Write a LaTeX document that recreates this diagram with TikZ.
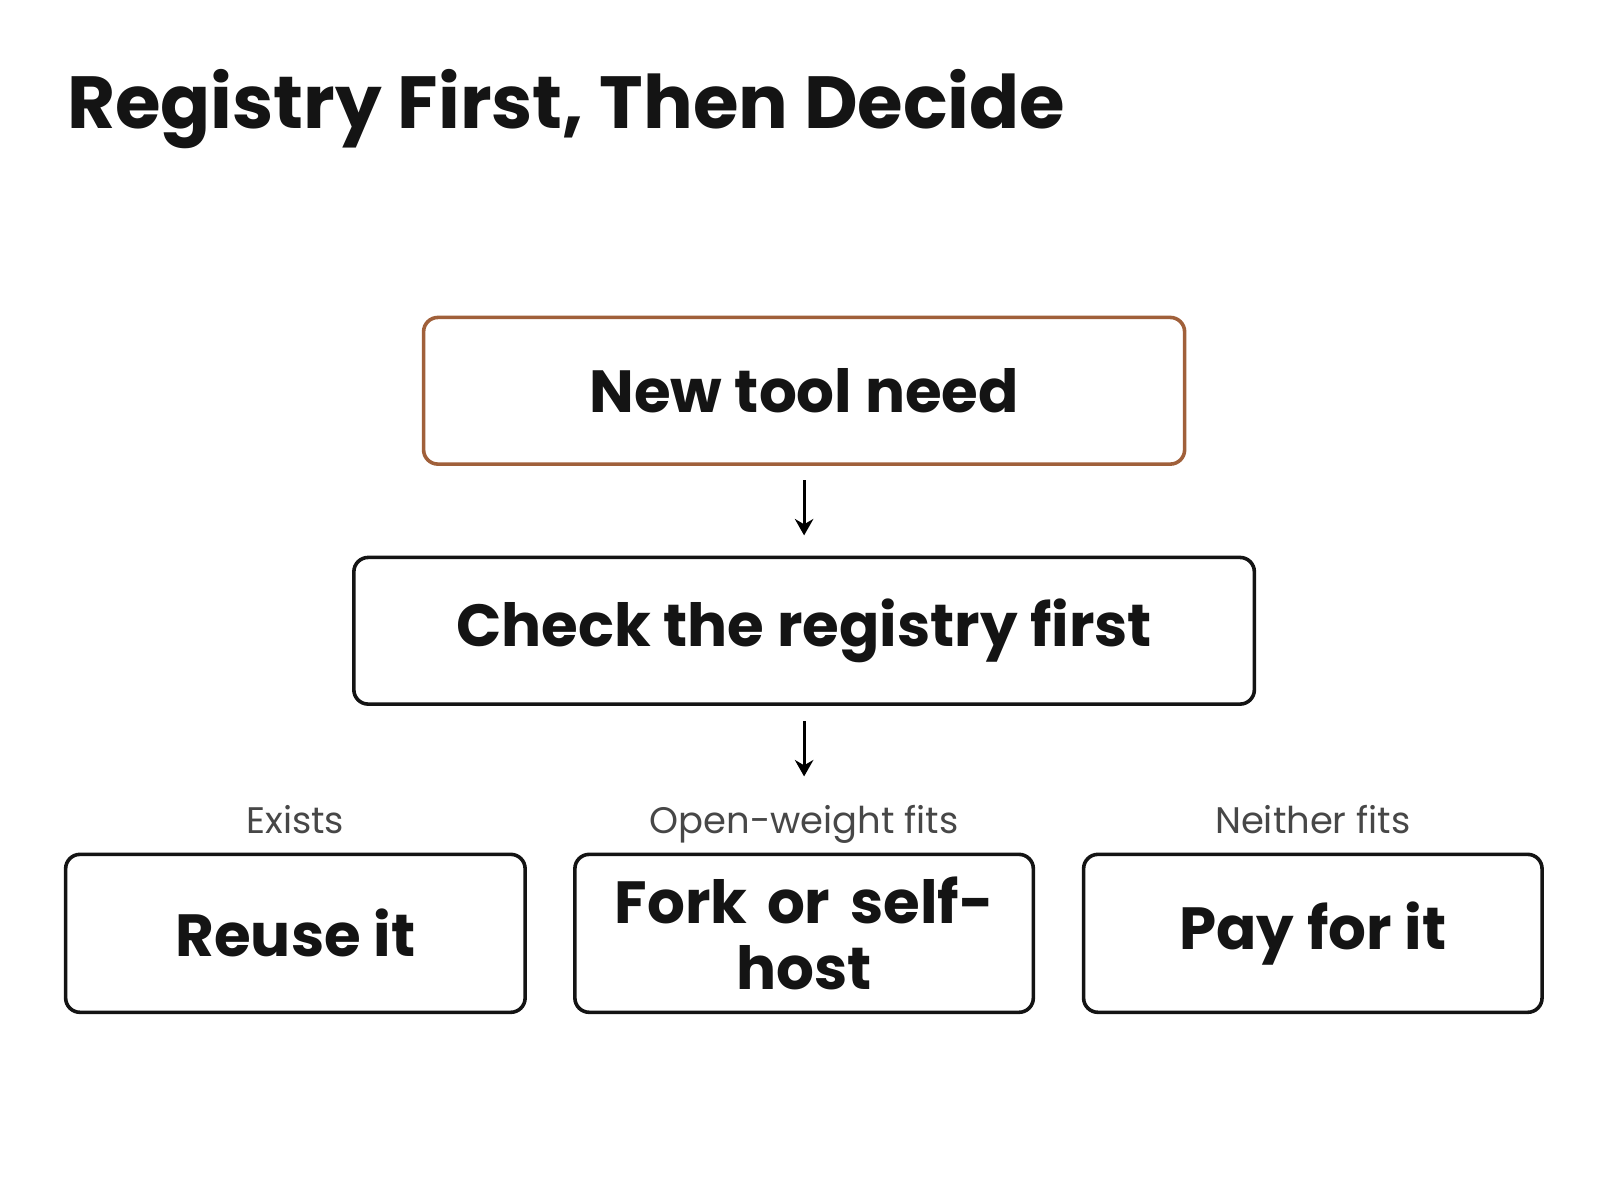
\documentclass[tikz,border=0pt]{standalone}
\usepackage{fontspec}
\setmainfont{Poppins}
\usetikzlibrary{arrows.meta}
\definecolor{brd}{HTML}{A0603A}
\begin{document}
\begin{tikzpicture}[x=1pt,y=-1pt,
 box/.style={draw=black!92,line width=3.5pt,rounded corners=14pt,align=center,font=\fontsize{58}{64}\selectfont\bfseries,text=black!92},
 lab/.style={anchor=base,font=\fontsize{36}{40}\selectfont,text=black!72},
 arr/.style={-{Stealth[length=16pt,width=18pt]},line width=3pt}]
\useasboundingbox (0,0) rectangle (1560,1170);
\node[anchor=base west,font=\fontsize{72}{76}\selectfont\bfseries,text=black!92] (t) at (62,125) {Registry First, Then Decide};
\node[box,draw=brd,minimum width=742pt,minimum height=143pt] (a) at (784,381) {New tool need};
\node[box,minimum width=878pt,minimum height=143pt] (b) at (784,615) {Check the registry first};
\node[box,minimum width=448pt,minimum height=154pt] (c1) at (288,910) {Reuse it};
\node[box,minimum width=447pt,minimum height=154pt,text width=400pt] (c2) at (784,910) {Fork or self-\\host};
\node[box,minimum width=447pt,minimum height=154pt] (c3) at (1280,910) {Pay for it};
\node[lab] (l1) at (288,813) {Exists};
\node[lab] (l2) at (784,813) {Open-weight fits};
\node[lab] (l3) at (1280,813) {Neither fits};
\coordinate (s1) at (784,468); \coordinate (e1) at (784,522);
\coordinate (s2) at (784,703); \coordinate (e2) at (784,757);
\draw[arr] (s1) -- (e1);
\draw[arr] (s2) -- (e2);
\end{tikzpicture}
\end{document}
